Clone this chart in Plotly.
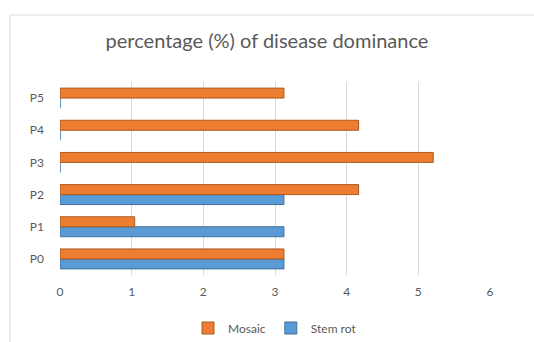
import plotly.graph_objects as go

categories = ["P0", "P1", "P2", "P3", "P4", "P5"]
mosaic = [3.125, 1.042, 4.167, 5.208, 4.167, 3.125]
stem_rot = [3.125, 3.125, 3.125, 0, 0, 0]
x_ticks = [0, 1, 2, 3, 4, 5, 6]

W, H = 534, 342
ml, mr, mt, mb = 60, 44, 82, 67
pw, ph = W - ml - mr, H - mt - mb

def px(xp):
    return (xp - ml) / pw

def py(yp):
    return 1 - (yp - mt) / ph

fig = go.Figure()
fig.add_trace(go.Bar(
    y=categories, x=stem_rot, name="Stem rot", orientation="h",
    marker=dict(color="#5B9BD5", line=dict(color="#41719C", width=1)),
    legendrank=2,
))
fig.add_trace(go.Bar(
    y=categories, x=mosaic, name="Mosaic", orientation="h",
    marker=dict(color="#ED7D31", line=dict(color="#AE5A21", width=1)),
    legendrank=1,
))

fig.update_layout(
    width=W, height=H,
    margin=dict(l=ml, r=mr, t=mt, b=mb, autoexpand=False),
    paper_bgcolor="white", plot_bgcolor="white",
    barmode="group", bargap=0.38, bargroupgap=0,
    font=dict(family="Lato", color="#595959", size=12),
    title=dict(text="percentage (%) of disease dominance", x=0.5, xanchor="center",
               y=1 - 41 / H, yanchor="middle", yref="container",
               font=dict(size=20, color="#595959", family="Lato")),
    xaxis=dict(range=[0, 6], tickvals=x_ticks, showgrid=True, gridcolor="#D9D9D9",
               gridwidth=1, zeroline=False, showline=False, ticklabelstandoff=8,
               tickfont=dict(size=12, color="#595959")),
    yaxis=dict(showgrid=False, zeroline=False, showline=False, ticklabelstandoff=15,
               tickfont=dict(size=12, color="#595959")),
    legend=dict(orientation="h", x=0.5, xanchor="center", yref="container",
                y=1 - 328 / H, yanchor="middle",
                font=dict(size=12, color="#595959"), itemwidth=30),
    showlegend=True,
)

fig.add_shape(type="rect", xref="paper", yref="paper",
              x0=px(10), y0=py(400), x1=px(600), y1=py(15),
              line=dict(color="#D9D9D9", width=1), fillcolor="rgba(0,0,0,0)", layer="below")

fig.write_html("out.html")
